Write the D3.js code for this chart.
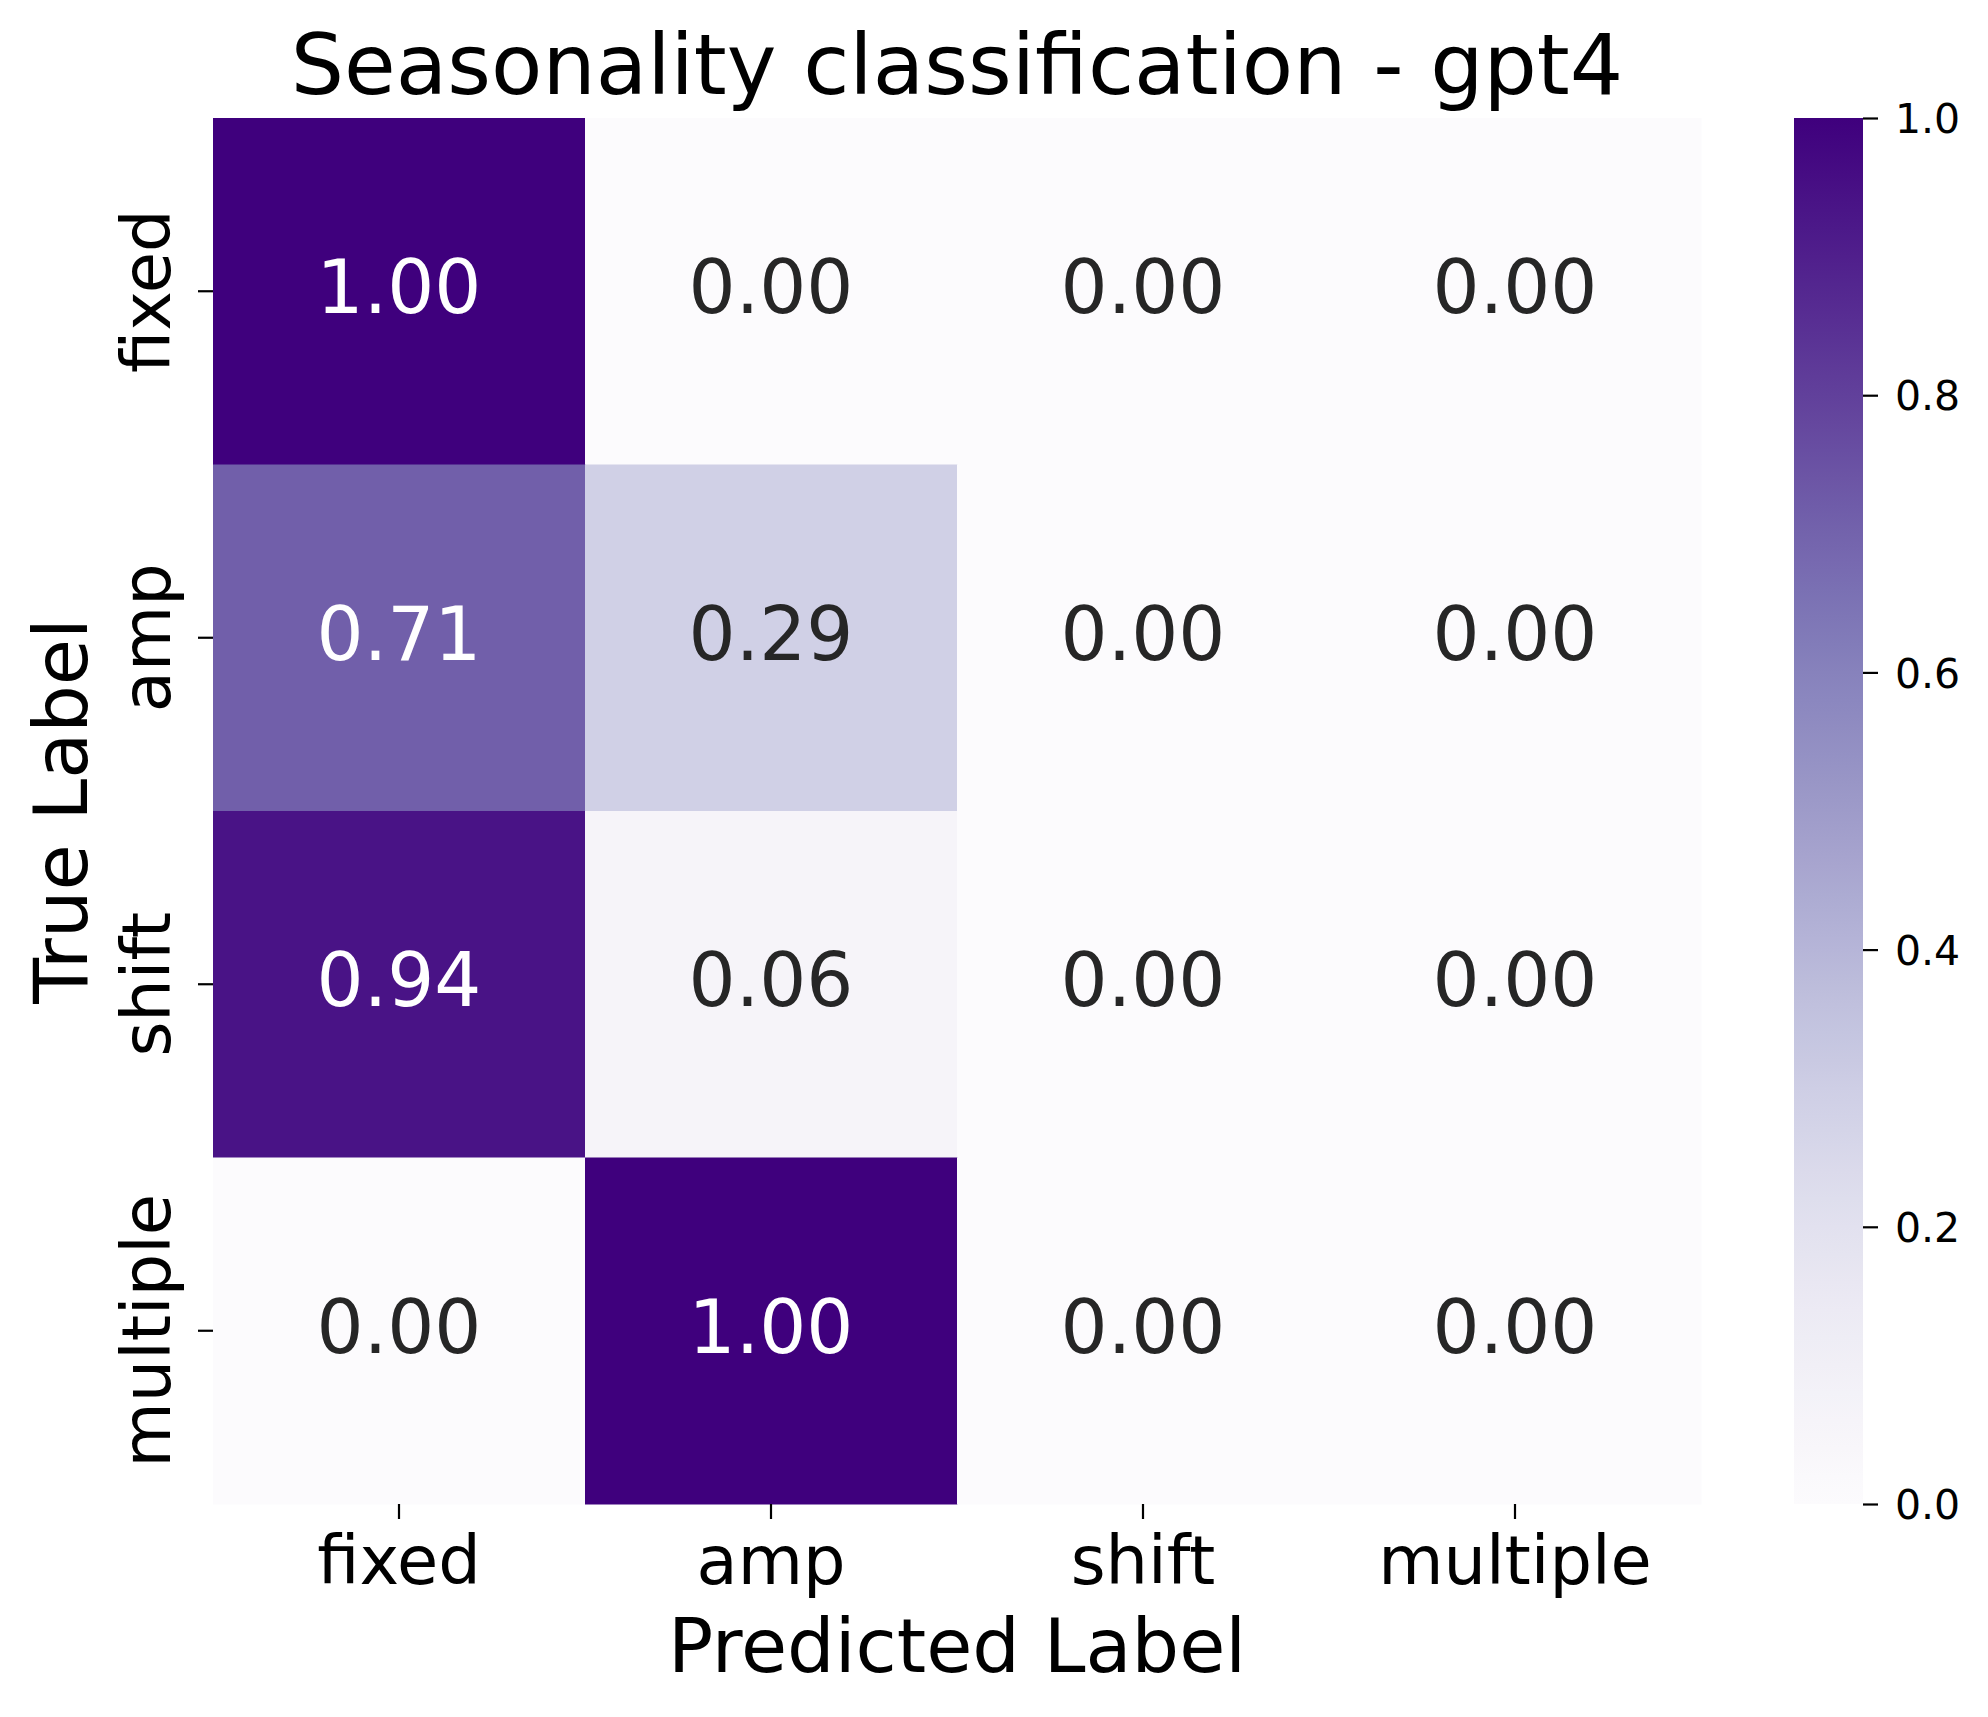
<!DOCTYPE html>
<html>
<head>
<meta charset="utf-8">
<script src="https://cdn.jsdelivr.net/npm/d3@7"></script>
<style>
  body { margin: 0; background: #fff; }
  text { font-family: "DejaVu Sans", sans-serif; }
</style>
</head>
<body>
<svg id="canvas" width="1988" height="1717"></svg>
<script>
// data
var predictedLabels = ["fixed", "amp", "shift", "multiple"];
var trueLabels = ["fixed", "amp", "shift", "multiple"];
var rowFixed = [1.00, 0.00, 0.00, 0.00];
var rowAmp = [0.71, 0.29, 0.00, 0.00];
var rowShift = [0.94, 0.06, 0.00, 0.00];
var rowMultiple = [0.00, 1.00, 0.00, 0.00];
var colorbarTicks = [0.0, 0.2, 0.4, 0.6, 0.8, 1.0];

var matrix = [rowFixed, rowAmp, rowShift, rowMultiple];

var svg = d3.select("#canvas");

var plot = {left: 213, right: 1701, top: 118, bottom: 1504};

var x = d3.scaleBand().domain(predictedLabels).range([plot.left, plot.right]);
var y = d3.scaleBand().domain(trueLabels).range([plot.top, plot.bottom]);
var color = d3.scaleSequential(d3.interpolatePurples).domain([0, 1]);

// relative luminance, like seaborn picks the annotation colour
function luminance(c) {
	var rgb = d3.rgb(c);
	var lin = [rgb.r, rgb.g, rgb.b].map(function(v) {
		v = v / 255;
		return v <= 0.03928 ? v / 12.92 : Math.pow((v + 0.055) / 1.055, 2.4);
	});
	return 0.2126 * lin[0] + 0.7152 * lin[1] + 0.0722 * lin[2];
}

var cells = [];
matrix.forEach(function(row, i) {
	row.forEach(function(v, j) {
		cells.push({row: trueLabels[i], col: predictedLabels[j], value: v});
	});
});

// cells
svg.append("g").selectAll("rect")
	.data(cells)
	.enter().append("rect")
	.attr("x", function(d) { return x(d.col); })
	.attr("y", function(d) { return y(d.row); })
	.attr("width", x.bandwidth() + 0.5)
	.attr("height", y.bandwidth() + 0.5)
	.attr("fill", function(d) { return color(d.value); });

// annotations
svg.append("g").selectAll("text")
	.data(cells)
	.enter().append("text")
	.attr("x", function(d) { return x(d.col) + x.bandwidth() / 2; })
	.attr("y", function(d) { return y(d.row) + y.bandwidth() / 2 + 22; })
	.attr("text-anchor", "middle")
	.style("font-size", "74px")
	.attr("fill", function(d) {
		return luminance(color(d.value)) > 0.408 ? "#262626" : "#ffffff";
	})
	.text(function(d) { return d.value.toFixed(2); });

// x axis
var xAxis = svg.append("g")
	.attr("transform", "translate(0," + plot.bottom + ")")
	.call(d3.axisBottom(x).tickSize(15).tickPadding(0));
xAxis.select(".domain").remove();
xAxis.selectAll("line").attr("stroke", "#000").attr("stroke-width", 2.2);
xAxis.selectAll("text")
	.attr("dy", null)
	.attr("y", 80)
	.attr("fill", "#000")
	.style("font-size", "67px")
	.style("font-family", "DejaVu Sans");

// y axis
var yAxis = svg.append("g")
	.attr("transform", "translate(" + plot.left + ",0)")
	.call(d3.axisLeft(y).tickSize(15).tickPadding(0));
yAxis.select(".domain").remove();
yAxis.selectAll("line").attr("stroke", "#000").attr("stroke-width", 2.2);
yAxis.selectAll("text")
	.attr("x", null)
	.attr("dy", null)
	.attr("text-anchor", "middle")
	.attr("transform", "translate(-43,0) rotate(-90)")
	.attr("fill", "#000")
	.style("font-size", "67px")
	.style("font-family", "DejaVu Sans");

// colorbar
var cb = {left: 1794, right: 1863};
var defs = svg.append("defs");
var grad = defs.append("linearGradient")
	.attr("id", "cbgrad")
	.attr("x1", "0").attr("y1", "1").attr("x2", "0").attr("y2", "0");
grad.selectAll("stop")
	.data(d3.range(0, 1.0001, 0.02))
	.enter().append("stop")
	.attr("offset", function(d) { return d; })
	.attr("stop-color", function(d) { return color(d); });

svg.append("rect")
	.attr("x", cb.left)
	.attr("y", plot.top)
	.attr("width", cb.right - cb.left)
	.attr("height", plot.bottom - plot.top)
	.attr("fill", "url(#cbgrad)");

var cbScale = d3.scaleLinear().domain([0, 1]).range([plot.bottom, plot.top]);
var cbAxis = svg.append("g")
	.attr("transform", "translate(" + cb.right + ",0)")
	.call(d3.axisRight(cbScale).tickValues(colorbarTicks).tickFormat(d3.format(".1f")).tickSize(15).tickPadding(17));
cbAxis.select(".domain").remove();
cbAxis.selectAll("line").attr("stroke", "#000").attr("stroke-width", 2.2);
cbAxis.selectAll("text")
	.attr("dy", "0.36em")
	.attr("fill", "#000")
	.style("font-size", "41px")
	.style("font-family", "DejaVu Sans");

// title and axis labels
svg.append("text")
	.attr("x", (plot.left + plot.right) / 2)
	.attr("y", 94)
	.attr("text-anchor", "middle")
	.style("font-size", "84px")
	.text("Seasonality classification - gpt4");

svg.append("text")
	.attr("x", (plot.left + plot.right) / 2)
	.attr("y", 1672)
	.attr("text-anchor", "middle")
	.style("font-size", "75px")
	.text("Predicted Label");

svg.append("text")
	.attr("transform", "translate(87," + (plot.top + plot.bottom) / 2 + ") rotate(-90)")
	.attr("text-anchor", "middle")
	.style("font-size", "75px")
	.text("True Label");
</script>
</body>
</html>
